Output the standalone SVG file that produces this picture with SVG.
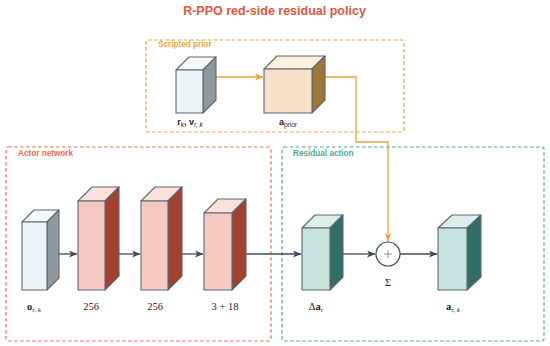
<svg xmlns="http://www.w3.org/2000/svg" width="550" height="346" viewBox="0 0 550 346">
<defs>
<marker id="ah" markerWidth="9" markerHeight="7" refX="8" refY="3.5" orient="auto" markerUnits="userSpaceOnUse">
<path d="M0,0 L8.5,3.5 L0,7 L2.2,3.5 z" fill="#3e4c59"/>
</marker>
<marker id="aho" markerWidth="9" markerHeight="7" refX="8" refY="3.5" orient="auto" markerUnits="userSpaceOnUse">
<path d="M0,0 L8.5,3.5 L0,7 L2.2,3.5 z" fill="#e8a33c"/>
</marker>
</defs>
<style>
.title{font-family:"Liberation Sans",Arial,sans-serif;font-weight:bold;font-size:12.5px;fill:#e5553e}
.glab{font-family:"Liberation Sans",Arial,sans-serif;font-weight:bold;font-size:8.2px}
.box{fill:none;stroke-width:1.2;stroke-dasharray:3.5,2.5}
.cube rect,.cube polygon{stroke:#5b6770;stroke-width:1.1;stroke-linejoin:round}
.gray .f{fill:#eef3f6}.gray .t{fill:#f6f9fb}.gray .s{fill:#8d989f}
.red .f{fill:#f6c9c0}.red .t{fill:#fbe1db}.red .s{fill:#a3402e}
.tan .f{fill:#f5e1c6}.tan .t{fill:#fbefde}.tan .s{fill:#a07636}
.teal .f{fill:#c6e2dc}.teal .t{fill:#ddefeb}.teal .s{fill:#2f6f67}
.conn{fill:none;stroke:#3e4c59;stroke-width:1.3}
.conno{fill:none;stroke:#e8a33c;stroke-width:1.3}
.math{font-family:"Liberation Serif","Times New Roman",serif;font-size:10.5px;fill:#222}
.mb{font-weight:bold}
.sub{font-style:italic;font-size:7px}
.sl{font-family:"Liberation Sans",Arial,sans-serif;font-size:9px;font-weight:bold;fill:#222}
.ss{font-family:"Liberation Sans",Arial,sans-serif;font-size:6.5px;font-weight:normal}
</style>
<rect width="550" height="346" fill="#ffffff"/>
<text class="title" x="274.5" y="15" text-anchor="middle">R-PPO red-side residual policy</text>

<g id="group-scripted">
<rect class="box" x="146" y="40" width="258" height="92" rx="2" stroke="#e8a33c"/>
<text class="glab" x="158" y="46.5" fill="#e8a33c">Scripted prior</text>
</g>
<g id="group-actor">
<rect class="box" x="6" y="147" width="265" height="194" rx="2" stroke="#f06a50"/>
<text class="glab" x="18" y="155.5" fill="#f06a50">Actor network</text>
</g>
<g id="group-residual">
<rect class="box" x="282" y="147" width="262" height="194" rx="2" stroke="#4aa89a"/>
<text class="glab" x="293" y="155.5" fill="#4aa89a">Residual action</text>
</g>

<g id="connectors">
<path class="conno" d="M216,77 H263" marker-end="url(#aho)"/>
<path class="conno" d="M325,77 H356 V142 H388 V241" marker-end="url(#aho)"/>
<path class="conn" d="M59,254 H77" marker-end="url(#ah)"/>
<path class="conn" d="M119,254 H140" marker-end="url(#ah)"/>
<path class="conn" d="M182,254 H203" marker-end="url(#ah)"/>
<path class="conn" d="M246,254 H301" marker-end="url(#ah)"/>
<path class="conn" d="M343,254 H375" marker-end="url(#ah)"/>
<path class="conn" d="M400,254 H437" marker-end="url(#ah)"/>
</g>

<g id="node-state" class="cube gray">
<polygon class="t" points="176,70 189,57 216,57 203,70"/>
<polygon class="s" points="203,70 216,57 216,100 203,113"/>
<rect class="f" x="176" y="70" width="27" height="43"/>
<text class="sl" x="190" y="125" text-anchor="middle">r<tspan class="ss" dy="1.5">k</tspan><tspan dy="-1.5">, v</tspan><tspan class="ss" dy="1.5" font-style="italic">r, k</tspan></text>
</g>
<g id="node-aprior" class="cube tan">
<polygon class="t" points="264,69 277,56 325,56 312,69"/>
<polygon class="s" points="312,69 325,56 325,100 312,113"/>
<rect class="f" x="264" y="69" width="48" height="44"/>
<text class="sl" x="288" y="125" text-anchor="middle">a<tspan class="ss" dy="1.5">prior</tspan></text>
</g>

<g id="node-obs" class="cube gray">
<polygon class="t" points="22,222 34,210 59,210 47,222"/>
<polygon class="s" points="47,222 59,210 59,278 47,290"/>
<rect class="f" x="22" y="222" width="25" height="68"/>
<text class="math" x="34" y="310" text-anchor="middle"><tspan class="mb">o</tspan><tspan class="sub" dy="1.5">r, k</tspan></text>
</g>
<g id="node-h1" class="cube red">
<polygon class="t" points="78,201 92,187 119,187 105,201"/>
<polygon class="s" points="105,201 119,187 119,276 105,290"/>
<rect class="f" x="78" y="201" width="27" height="89"/>
<text class="math" x="91" y="310" text-anchor="middle">256</text>
</g>
<g id="node-h2" class="cube red">
<polygon class="t" points="141,201 155,187 182,187 168,201"/>
<polygon class="s" points="168,201 182,187 182,276 168,290"/>
<rect class="f" x="141" y="201" width="27" height="89"/>
<text class="math" x="155" y="310" text-anchor="middle">256</text>
</g>
<g id="node-out" class="cube red">
<polygon class="t" points="204,213 218,199 246,199 232,213"/>
<polygon class="s" points="232,213 246,199 246,276 232,290"/>
<rect class="f" x="204" y="213" width="28" height="77"/>
<text class="math" x="225" y="310" text-anchor="middle">3 + 18</text>
</g>

<g id="node-delta" class="cube teal">
<polygon class="t" points="302,228 315,215 343,215 330,228"/>
<polygon class="s" points="330,228 343,215 343,277 330,290"/>
<rect class="f" x="302" y="228" width="28" height="62"/>
<text class="math" x="316" y="310" text-anchor="middle">Δ<tspan class="mb">a</tspan><tspan class="sub" dy="1.5">r</tspan></text>
</g>
<g id="node-sum">
<circle cx="388" cy="254" r="12" fill="#ffffff" stroke="#3e4c59" stroke-width="1.2"/>
<path d="M384,254 H392 M388,250 V258" stroke="#888" stroke-width="0.9"/>
<text class="math" x="388" y="286" text-anchor="middle" font-size="9.5">Σ</text>
</g>
<g id="node-action" class="cube teal">
<polygon class="t" points="438,228 452,215 481,215 467,228"/>
<polygon class="s" points="467,228 481,215 481,277 467,290"/>
<rect class="f" x="438" y="228" width="29" height="62"/>
<text class="math" x="453" y="310" text-anchor="middle"><tspan class="mb">a</tspan><tspan class="sub" dy="1.5">r, k</tspan></text>
</g>
</svg>
